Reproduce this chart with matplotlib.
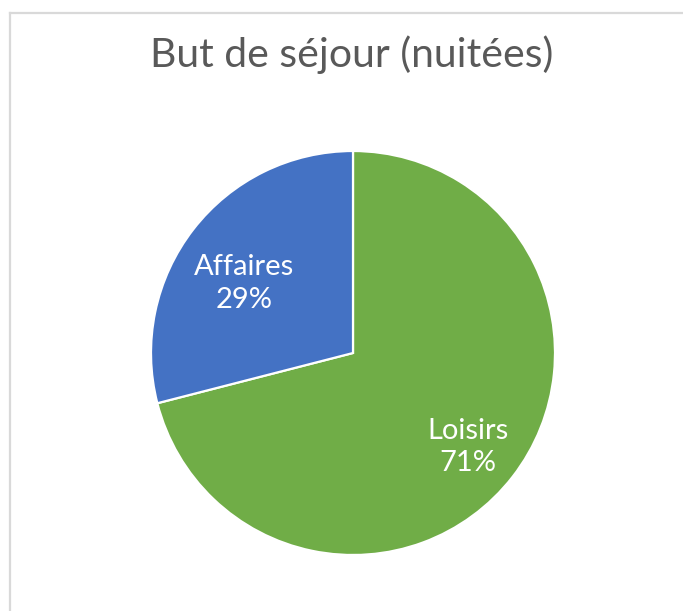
import numpy as np
import matplotlib.pyplot as plt
from matplotlib.lines import Line2D

# data
labels = ["Loisirs", "Affaires"]
shares = [71, 29]
colors = ["#70AD47", "#4472C4"]
title = "But de séjour (nuitées)"

W, H = 683, 611
fig = plt.figure(figsize=(W / 100, H / 100), dpi=100)
fig.patch.set_facecolor("white")

# chart frame (light gray, left and top only visible)
fig.add_artist(Line2D([10 / W, 10 / W], [0, 1 - 12.5 / H], color="#D9D9D9", lw=1.6))
fig.add_artist(Line2D([10 / W, 1], [1 - 12.5 / H, 1 - 12.5 / H], color="#D9D9D9", lw=1.6))

cx, cy, r = 353, 353, 202
ax = fig.add_axes([(cx - r) / W, (H - cy - r) / H, 2 * r / W, 2 * r / H])
wedges, _ = ax.pie(shares, colors=colors, startangle=90, counterclock=False,
                   radius=1, wedgeprops=dict(edgecolor="white", linewidth=1.6))
ax.set_xlim(-1, 1)
ax.set_ylim(-1, 1)
ax.set_aspect("equal")
ax.axis("off")

# label placement: distance from centre and small angle nudge per wedge
label_r = [0.734, 0.638]
label_nudge = [-1.6, 5.2]
for w, lab, val, lr, dn in zip(wedges, labels, shares, label_r, label_nudge):
    ang = np.deg2rad((w.theta1 + w.theta2) / 2 + dn)
    ax.text(lr * np.cos(ang), lr * np.sin(ang), f"{lab}\n{val}%",
            ha="center", va="center", color="white", fontsize=21,
            family=["Lato", "DejaVu Sans"], linespacing=1.32)

fig.text(352 / W, 1 - 55 / H, title, ha="center", va="center",
         fontsize=29.5, color="#595959", family=["Lato", "DejaVu Sans"])

fig.savefig("out.png", dpi=100)
